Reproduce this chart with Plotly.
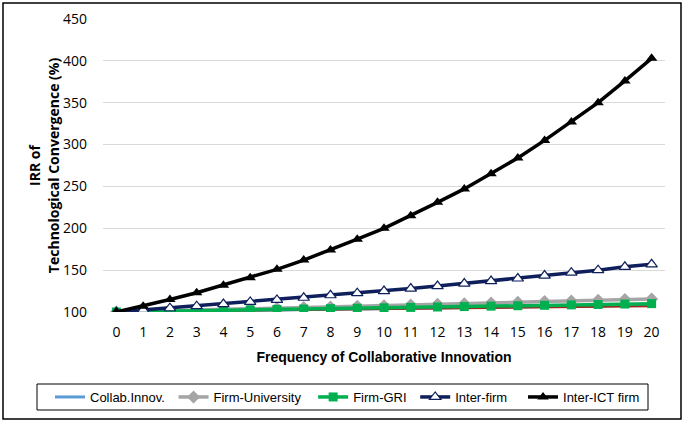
import plotly.graph_objects as go

x_vals = list(range(21))
collab_innov = [100, 100.4, 100.8, 101.2, 101.6, 102, 102.4, 102.8, 103.2, 103.6, 104, 104.4, 104.8, 105.2, 105.6, 106, 106.4, 106.8, 107.2, 107.6, 108]
hidden_red = [100, 100.35, 100.7, 101.05, 101.4, 101.75, 102.1, 102.45, 102.8, 103.15, 103.5, 103.85, 104.2, 104.55, 104.9, 105.25, 105.6, 105.95, 106.3, 106.65, 107]
firm_univ = [100, 100.7, 101.5, 102.2, 103, 103.7, 104.5, 105.3, 106, 106.8, 107.6, 108.4, 109.2, 110, 110.8, 111.6, 112.4, 113.2, 114, 114.8, 115.6]
firm_gri = [100, 100.5, 101, 101.5, 102, 102.5, 103, 103.5, 104, 104.5, 105, 105.5, 106, 106.5, 107, 107.5, 108, 108.5, 109, 109.5, 110]
inter_firm = [100, 102.5, 104.5, 107, 109.5, 112, 114.5, 117, 120, 122.5, 125, 128, 131, 134, 137, 140, 143.5, 147, 150, 154, 157]
inter_ict = [100, 107, 115, 123, 132, 141, 151, 162, 174, 187, 200, 215, 231, 247, 265, 284, 305, 327, 350, 376, 403]
y_ticks = [100, 150, 200, 250, 300, 350, 400, 450]

NB = "\u00a0"
fig = go.Figure()
fig.add_trace(go.Scatter(x=x_vals, y=collab_innov, name="Collab.Innov." + NB, mode="lines",
                         line=dict(color="#5B9BD5", width=3)))
fig.add_trace(go.Scatter(x=x_vals, y=firm_univ, name="Firm-University" + NB * 2, mode="lines+markers",
                         line=dict(color="#A5A5A5", width=3.5),
                         marker=dict(symbol="diamond", size=10, color="#A5A5A5")))
fig.add_trace(go.Scatter(x=x_vals, y=hidden_red, name="", mode="lines", showlegend=False,
                         line=dict(color="#9E2A1E", width=2)))
fig.add_trace(go.Scatter(x=x_vals, y=firm_gri, name="Firm-GRI" + NB, mode="lines+markers",
                         line=dict(color="#00B050", width=3.5),
                         marker=dict(symbol="square", size=9, color="#00B050")))
fig.add_trace(go.Scatter(x=x_vals, y=inter_firm, name="Inter-firm" + NB * 3, mode="lines+markers",
                         line=dict(color="#0F1F5C", width=3.5),
                         marker=dict(symbol="triangle-up", size=10, color="white",
                                     line=dict(color="#0F1F5C", width=1.2))))
fig.add_trace(go.Scatter(x=x_vals, y=inter_ict, name="Inter-ICT firm", mode="lines+markers",
                         line=dict(color="black", width=3.5),
                         marker=dict(symbol="triangle-up", size=10, color="black")))

L, R, T, B = 103, 19, 19, 110
W, H = 684, 422
pw = W - L - R
ph = H - T - B

def px_x(p):
    return (p - L) / pw

def px_y(p):
    return (H - B - p) / ph

fig.update_layout(
    width=W, height=H,
    margin=dict(l=L, r=R, t=T, b=B, autoexpand=False),
    paper_bgcolor="white", plot_bgcolor="white",
    font=dict(family="Liberation Sans, Arial, sans-serif", size=14, color="black"),
    xaxis=dict(range=[-0.5, 20.5], tickmode="array", tickvals=x_vals, ticktext=[str(v) for v in x_vals],
               showgrid=False, zeroline=False, showline=False, ticks="",
               ticklabelstandoff=10, automargin=False,
               tickfont=dict(family="Open Sans, sans-serif", size=14),
               title=dict(text="<b>Frequency of Collaborative Innovation</b>",
                          font=dict(family="Liberation Sans, sans-serif", size=14), standoff=12)),
    yaxis=dict(range=[100, 450], tickmode="array", tickvals=y_ticks,
               showgrid=True, gridcolor="#D9D9D9", gridwidth=1, zeroline=False, showline=False, ticks="",
               ticklabelstandoff=15, automargin=False,
               tickfont=dict(family="Open Sans, sans-serif", size=14),
               title=dict(text="<b>IRR of<br>Technological Convergence (%)</b>",
                          font=dict(family="Open Sans, sans-serif", size=14), standoff=0)),
    legend=dict(orientation="h", x=px_x(50), y=px_y(382), xanchor="left", yanchor="top",
                borderwidth=0, bgcolor="rgba(0,0,0,0)",
                font=dict(family="Liberation Sans, sans-serif", size=13),
                tracegroupgap=0, itemwidth=30),
    shapes=[
        dict(type="rect", xref="paper", yref="paper",
             x0=px_x(3), x1=px_x(681), y0=px_y(419), y1=px_y(3),
             line=dict(color="black", width=1.5), fillcolor="rgba(0,0,0,0)", layer="below"),
        dict(type="rect", xref="paper", yref="paper",
             x0=px_x(37), x1=px_x(648), y0=px_y(410), y1=px_y(384),
             line=dict(color="black", width=1), fillcolor="rgba(0,0,0,0)", layer="below"),
    ],
)

fig.write_html("out.html", config={"displayModeBar": False},
               post_script="document.body.style.margin='0';")
